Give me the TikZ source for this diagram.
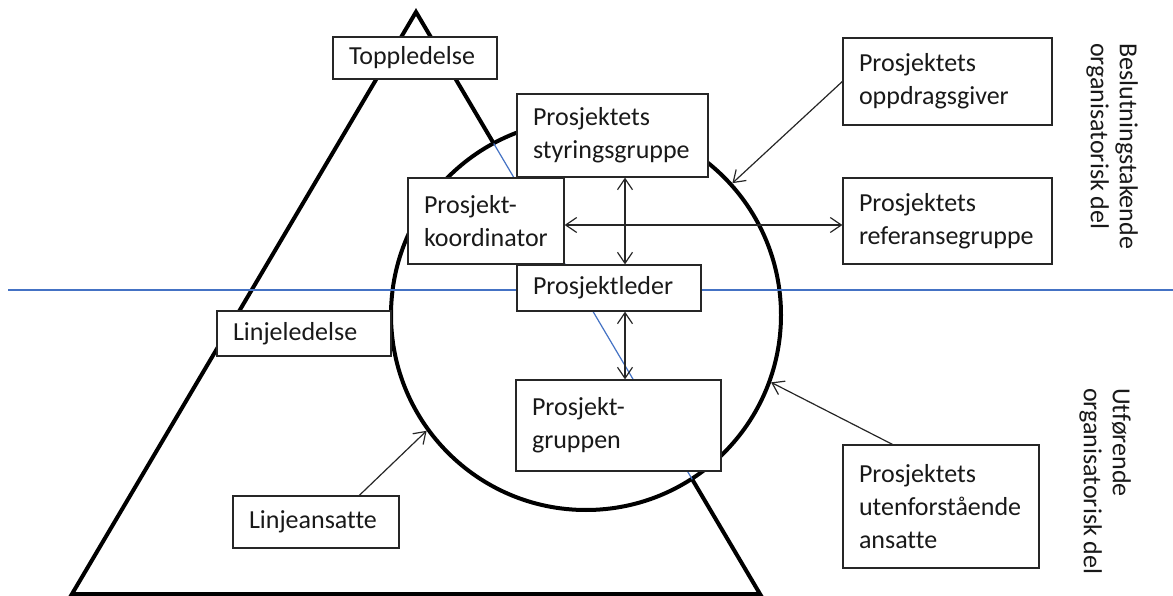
\documentclass[tikz,border=0pt]{standalone}
\usepackage{fontspec}
\setmainfont{Carlito}[Ligatures=NoCommon]
\usetikzlibrary{arrows.meta,calc}
\definecolor{divider}{HTML}{4472C4}
\begin{document}
\begin{tikzpicture}[x=1pt,y=-1pt,
  box/.style={draw=black!85, line width=1.3pt, fill=white, align=left,
    inner xsep=16pt, inner ysep=0pt, font=\fontsize{26}{33}\selectfont, text=black!90},
  barb/.tip={Straight Barb[length=11pt,width=15pt]},
  link/.style={draw=black!85, line width=1.2pt, -barb},
  twoway/.style={draw=black!85, line width=1.2pt, barb-barb},
  outline/.style={line width=4pt, line join=miter},
  vtext/.style={rotate=-90, anchor=north west, align=left, inner sep=0pt,
    font=\fontsize{26}{29}\selectfont, text=black!90}]
\useasboundingbox (0,0) rectangle (1173,596);

% organisational pyramid
\coordinate (apex) at (416,12);
\coordinate (bl) at (72,594);
\coordinate (br) at (760,594);
\draw[outline] (apex) -- (bl) -- (br) -- cycle;

% the project circle
\node[circle, draw, line width=4pt, fill=white, minimum size=390pt, inner sep=0pt] (circ) at (586,315) {};

% pyramid edge seen through the circle, and the divider between the two levels
\draw[divider, line width=1.2pt] ($(apex)!0.2259!(br)$) -- ($(apex)!0.803!(br)$);
\coordinate (divL) at (8,290);
\coordinate (divR) at (1173,290);
\draw[divider, line width=1.2pt] (divL) -- (divR);

% boxes
\node[box, text width=132pt, minimum height=42pt] (top) at (415,58) {Toppledelse};
\node[box, text width=159pt, minimum height=83pt] (styr) at (612.5,135.5) {Prosjektets\\styringsgruppe};
\node[box, text width=124pt, minimum height=86pt] (koord) at (486,221) {Prosjekt-\\koordinator};
\node[box, text width=152pt, minimum height=46pt] (leder) at (609,288) {Prosjektleder};
\node[box, text width=173pt, minimum height=91pt] (gruppe) at (618.5,425.5) {Prosjekt-\\gruppen};
\node[box, text width=142pt, minimum height=45pt] (linjeled) at (304,333.5) {Linjeledelse};
\node[box, text width=134pt, minimum height=52pt] (linjeans) at (316,522) {Linjeansatte};
\node[box, text width=177pt, minimum height=87pt] (oppd) at (947.5,81.5) {Prosjektets\\oppdragsgiver};
\node[box, text width=177pt, minimum height=86pt] (ref) at (947.5,221) {Prosjektets\\referansegruppe};
\node[box, text width=164pt, minimum height=123pt] (ute) at (941,506.5) {Prosjektets\\utenforstående\\ansatte};

% connections
\coordinate (vx) at (625,0);
\coordinate (hy) at (0,225);
\draw[twoway] (styr.south -| vx) -- (leder.north -| vx);
\draw[twoway] (leder.south -| vx) -- (gruppe.north -| vx);
\draw[twoway] (koord.east |- hy) -- (ref.west |- hy);
\draw[link] (oppd.west) -- (circ.42);
\draw[link] ($(ute.north west)+(50,0)$) -- (circ.-20);
\draw[link] ($(linjeans.north west)+(127,0)$) -- (circ.216);

% side captions
\node[vtext] (upper) at (1138,43) {Beslutningstakende\\organisatorisk del};
\node[vtext] (lower) at (1131,388) {Utførende\\organisatorisk del};
\end{tikzpicture}
\end{document}
